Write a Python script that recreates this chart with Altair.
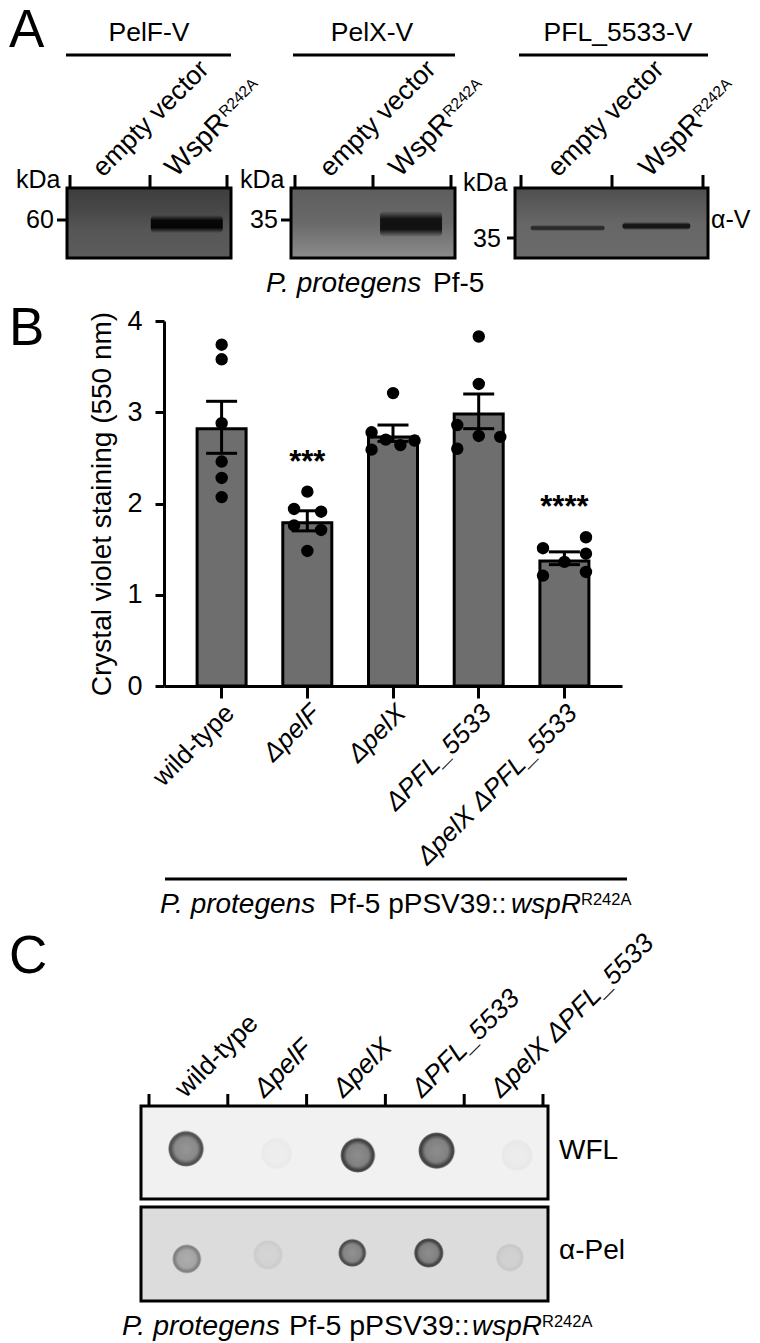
import altair as alt
import pandas as pd

FONT = "Liberation Sans"
W, H = 744, 1335

# ---------- Panel B data ----------
strains = ["wild-type", "ΔpelF", "ΔpelX", "ΔPFL_5533", "ΔpelX ΔPFL_5533"]
means = [2.82, 1.79, 2.73, 2.98, 1.37]
err_low = [2.55, 1.70, 2.68, 2.82, 1.33]
err_high = [3.12, 1.92, 2.86, 3.20, 1.47]
rep_wt = [3.74, 3.58, 2.88, 2.46, 2.28, 2.07]
rep_pelf = [2.13, 1.94, 1.91, 1.76, 1.71, 1.48]
rep_pelx = [3.21, 2.78, 2.70, 2.64, 2.69, 2.59]
rep_pfl = [3.83, 3.31, 2.86, 2.74, 2.73, 2.60]
rep_dbl = [1.63, 1.51, 1.45, 1.36, 1.25, 1.21]
jit_wt = [0, 0, 0, 0, 0, 0]
jit_pelf = [0, -0.31, 0.32, -0.31, 0.32, 0]
jit_pelx = [0, -0.5, -0.17, 0.17, 0.5, -0.5]
jit_pfl = [0, 0, -0.5, 0, 0.5, -0.5]
jit_dbl = [0.5, -0.5, 0.5, 0, 0.5, -0.5]
sig_strains = ["ΔpelF", "ΔpelX ΔPFL_5533"]
sig_marks = ["***", "****"]
sig_level = [2.34, 1.85]

# ---------- Panel C data ----------
lane_centers = [0.5, 1.5, 2.5, 3.5, 4.5]
lane_edges = [0, 1, 2, 3, 4, 5]
wfl_lane = [0.47, 1.62, 2.65, 3.65, 4.67]
wfl_pos = [0.46, 0.51, 0.53, 0.48, 0.53]
wfl_strength = [0.92, 0.04, 1.0, 1.0, 0.05]
wfl_area = [1320, 1018, 1250, 1385, 1018]
pel_lane = [0.48, 1.51, 2.58, 3.55, 4.58]
pel_pos = [1.645, 1.60, 1.58, 1.58, 1.63]
pel_strength = [0.6, 0.1, 0.95, 1.0, 0.13]
pel_area = [855, 908, 800, 900, 800]

# ---------- Panel A data ----------
lanes = ["empty vector", "WspR"]

one = alt.Data(values=[{}])


def T(x, y, s, size=26, style="normal", angle=0, align="left", weight="normal"):
    return alt.Chart(one).mark_text(
        font=FONT, fontSize=size, fontStyle=style, angle=angle, align=align,
        baseline="alphabetic", fontWeight=weight, color="black",
    ).encode(x=alt.value(x - 8), y=alt.value(y - 8), text=alt.value(s))


def hline(x0, x1, y, w=3):
    return alt.Chart(one).mark_rule(stroke="black", strokeWidth=w).encode(
        x=alt.value(x0 - 8), x2=alt.value(x1 - 8), y=alt.value(y - 8))


def vline(x, y0, y1, w=3):
    return alt.Chart(one).mark_rule(stroke="black", strokeWidth=w).encode(
        x=alt.value(x - 8), y=alt.value(y0 - 8), y2=alt.value(y1 - 8))


def vgrad(*stops):
    return alt.LinearGradient(
        gradient="linear", x1=0, x2=0, y1=0, y2=1,
        stops=[alt.GradientStop(color=c, offset=o) for o, c in stops])


def box(x0, x1, y0, y1, fill):
    return alt.Chart(one).mark_rect(fill=fill, stroke="black", strokeWidth=3).encode(
        x=alt.value(x0 - 8), x2=alt.value(x1 - 8),
        y=alt.value(y0 - 8), y2=alt.value(y1 - 8))


def band(lane, strength, y0, y1, x0, x1, wide):
    grad = vgrad((0, "rgba(0,0,0,0)"), (0.3, "rgba(0,0,0,0.9)"),
                 (0.7, "rgba(0,0,0,0.95)"), (1, "rgba(0,0,0,0)"))
    d = pd.DataFrame({"lane": [lane], "strength": [strength]})
    return alt.Chart(d).mark_rect(fill=grad, cornerRadius=4, width=wide).encode(
        x=alt.X("lane:N", axis=None, scale=alt.Scale(
            domain=lanes, range=[x0 - 8, x1 - 8], padding=0.05)),
        y=alt.value(y0 - 8), y2=alt.value(y1 - 8),
        opacity=alt.Opacity("strength:Q", scale=None))


def rot_pieces(x, y):
    """WspR with its superscript, rotated along a 45 degree baseline."""
    return [T(x, y, "WspR", size=28, angle=315),
            T(x + 49, y - 60, "R242A", size=15.5, angle=315)]


layers = []

# ---------- Panel A ----------
layers += [T(9, 47, "A", size=53), T(9, 345, "B", size=53), T(9, 973, "C", size=53)]
for cx, s, x0, x1 in [(149, "PelF-V", 66, 231), (372, "PelX-V", 293, 455),
                      (618, "PFL_5533-V", 519, 708)]:
    layers += [T(cx, 41, s, size=26.5, align="center"), hline(x0, x1, 55)]

blots = [
    (67, 231, vgrad((0, "#3e3e3e"), (0.3, "#474747"), (0.6, "#565656"), (1, "#5c5c5c"))),
    (291, 455, vgrad((0, "#5d5d5d"), (0.5, "#696969"), (1, "#8c8c8c"))),
    (515, 708, vgrad((0, "#4f4f4f"), (0.5, "#666666"), (1, "#6b6b6b"))),
]
for x0, x1, g in blots:
    layers.append(box(x0, x1, 188, 258, g))

layers += [
    band("WspR", 1.0, 215, 233, 70, 227, 72),
    band("WspR", 0.9, 211, 237, 295, 451, 62),
    band("empty vector", 0.65, 225, 231, 521, 703, 74),
    band("WspR", 0.85, 222, 230, 521, 703, 68),
]

for x in [70, 150, 227, 295, 373, 451, 521, 612, 703]:
    layers.append(vline(x, 175, 188))

for sx, wx in [(103, 176), (330, 400), (558, 650)]:
    layers.append(T(sx, 178, "empty vector", size=26.5, angle=315))
    layers += rot_pieces(wx, 178)

layers += [
    T(16, 188, "kDa", size=25), T(26, 228, "60", size=25), hline(57, 67, 220),
    T(240, 188, "kDa", size=25), T(250, 228, "35", size=25), hline(281, 291, 220),
    T(463, 191, "kDa", size=25), T(473, 247, "35", size=25), hline(507, 515, 238),
    T(711, 228, "α-V", size=25),
    T(266, 292, "P. protegens", size=28, style="italic"),
    T(433, 292, "Pf-5", size=28),
]

# ---------- Panel B ----------
xs = alt.Scale(type="band", domain=strains, range=[164 - 8, 622 - 8],
               paddingInner=0.43, paddingOuter=0.387)
ys = alt.Scale(domain=[0, 4], range=[686 - 8, 321 - 8])
x_ax = alt.Axis(
    title=None, orient="bottom", offset=-(H - (686 - 8)), domainWidth=3, domainColor="black",
    tickWidth=3, tickColor="black", tickSize=12, labels=False,
)
y_ax = alt.Axis(
    title="Crystal violet staining (550 nm)", orient="left", offset=-(164 - 8), values=[0, 1, 2, 3, 4],
    format="d", domainWidth=3, domainColor="black", tickWidth=3, tickColor="black", tickSize=9,
    labelFont=FONT, labelFontSize=27, labelColor="black", labelPadding=13, grid=False,
    titleFont=FONT, titleFontSize=28, titleFontWeight="normal", titleColor="black", titlePadding=10,
)
summary = pd.DataFrame({"strain": strains, "mean": means, "low": err_low, "high": err_high})
reps = pd.DataFrame({
    "strain": sum([[s] * 6 for s in strains], []),
    "value": rep_wt + rep_pelf + rep_pelx + rep_pfl + rep_dbl,
    "jitter": jit_wt + jit_pelf + jit_pelx + jit_pfl + jit_dbl,
})
sig = pd.DataFrame({"strain": sig_strains, "mark": sig_marks, "level": sig_level})
X = alt.X("strain:N", scale=xs, sort=strains, axis=x_ax)
X0 = alt.X("strain:N", scale=xs, sort=strains, axis=None)
base = alt.Chart(summary)


def b_labels(test, style):
    return base.transform_filter(test).mark_text(
        font=FONT, fontSize=26, angle=315, align="right", baseline="alphabetic",
        dx=20, color="black", fontStyle=style).encode(
        x=X0, y=alt.value(729 - 8), text="strain:N")


layers += [
    base.mark_bar(fill="#6e6e6e", stroke="black", strokeWidth=3, width=49).encode(
        x=X, y=alt.Y("mean:Q", scale=ys, axis=y_ax)),
    base.mark_rule(stroke="black", strokeWidth=3).encode(
        x=X0, y=alt.Y("low:Q", scale=ys, axis=None), y2="high:Q"),
    base.mark_tick(color="black", size=31, thickness=3, opacity=1).encode(
        x=X0, y=alt.Y("high:Q", scale=ys, axis=None)),
    base.mark_tick(color="black", size=31, thickness=3, opacity=1).encode(
        x=X0, y=alt.Y("low:Q", scale=ys, axis=None)),
    alt.Chart(reps).mark_circle(color="black", opacity=1, size=154).encode(
        x=X0, y=alt.Y("value:Q", scale=ys, axis=None),
        xOffset=alt.XOffset("jitter:Q", scale=alt.Scale(domain=[-1, 1], range=[-18.5, 67.5]))),
    alt.Chart(sig).mark_text(font=FONT, fontSize=31, fontWeight="bold", baseline="alphabetic",
                             align="center", color="black").encode(
        x=X0, y=alt.Y("level:Q", scale=ys, axis=None), text="mark:N"),
    b_labels("datum.strain == 'wild-type'", "normal"),
    b_labels("datum.strain != 'wild-type'", "italic"),
]

layers += [
    hline(165, 627, 879),
    T(160, 913, "P. protegens", size=28, style="italic"),
    T(329, 913, "Pf-5 pPSV39::", size=28),
    T(511, 913, "wspR", size=28, style="italic"),
    T(581, 905, "R242A", size=16.5),
]

# ---------- Panel C ----------
layers.append(box(141, 548, 1106, 1199, "#f1f1f1"))
layers.append(box(141, 548, 1207, 1301, "#dcdcdc"))

lx = alt.Scale(domain=[0, 5], range=[149 - 8, 543 - 8])
ly = alt.Scale(domain=[0, 2.08], range=[1106 - 8, 1299.4 - 8])
spots = pd.DataFrame({
    "lane": wfl_lane + pel_lane,
    "pos": wfl_pos + pel_pos,
    "strength": wfl_strength + pel_strength,
    "area": wfl_area + pel_area,
})
spot_fill = alt.RadialGradient(
    gradient="radial", x1=0.5, y1=0.5, x2=0.5, y2=0.5, r1=0, r2=0.5,
    stops=[alt.GradientStop(color="#8e8e8e", offset=0),
           alt.GradientStop(color="#808080", offset=0.62),
           alt.GradientStop(color="#3c3c3c", offset=0.86),
           alt.GradientStop(color="#5a5a5a", offset=0.94),
           alt.GradientStop(color="rgba(120,120,120,0)", offset=1)])
labels_c = pd.DataFrame({"lane": lane_centers, "name": strains})
ticks_c = pd.DataFrame({"lane": lane_edges})


def c_labels(test, style):
    return alt.Chart(labels_c).transform_filter(test).mark_text(
        font=FONT, fontSize=26.5, angle=315, align="left", baseline="alphabetic",
        dx=-4, color="black", fontStyle=style).encode(
        x=alt.X("lane:Q", scale=lx, axis=None),
        y=alt.value(1096 - 8), text="name:N")


layers += [
    alt.Chart(spots).mark_circle(fill=spot_fill).encode(
        x=alt.X("lane:Q", scale=lx, axis=None),
        y=alt.Y("pos:Q", scale=ly, axis=None),
        size=alt.Size("area:Q", scale=None),
        opacity=alt.Opacity("strength:Q", scale=None)),
    alt.Chart(ticks_c).mark_rule(stroke="black", strokeWidth=3).encode(
        x=alt.X("lane:Q", scale=lx, axis=None),
        y=alt.value(1094 - 8), y2=alt.value(1106 - 8)),
    c_labels("datum.name == 'wild-type'", "normal"),
    c_labels("datum.name != 'wild-type'", "italic"),
]

layers += [
    T(559, 1159, "WFL", size=28),
    T(559, 1259, "α-Pel", size=28),
    T(122, 1335, "P. protegens", size=28.5, style="italic"),
    T(289, 1335, "Pf-5 pPSV39::", size=28.5),
    T(472, 1335, "wspR", size=28, style="italic"),
    T(542, 1327, "R242A", size=16.5),
]

chart = alt.layer(*layers).resolve_scale(
    x="independent", y="independent"
).properties(
    width=W, height=H, padding=0, autosize=alt.AutoSizeParams(type="none"),
).configure_view(stroke=None)

chart.save("out.html", embed_options={"renderer": "svg", "actions": False})
